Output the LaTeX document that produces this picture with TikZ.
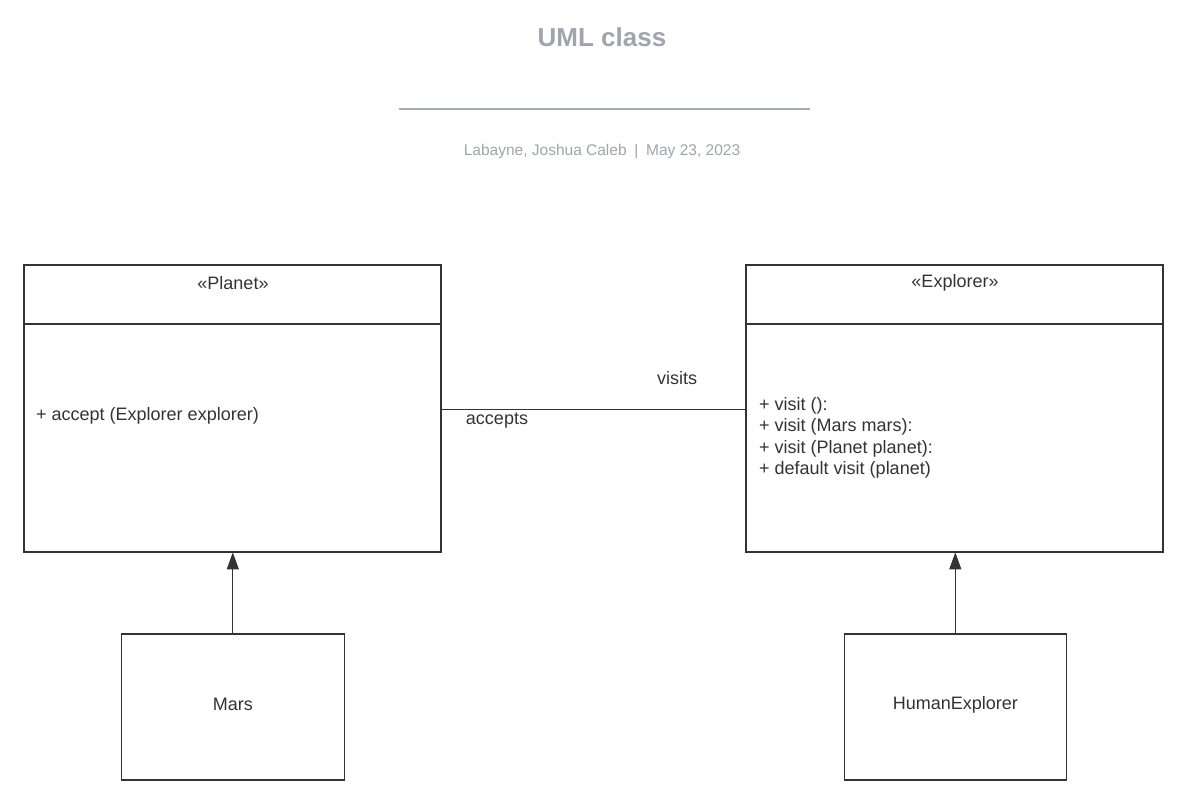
\documentclass[tikz,border=0pt]{standalone}
\usepackage{fontspec}
\setmainfont{Liberation Sans}
\usetikzlibrary{arrows.meta}
\definecolor{ink}{RGB}{51,51,51}
\definecolor{titlegray}{RGB}{160,164,172}
\definecolor{rulegray}{RGB}{160,170,184}
\tikzset{
  box/.style={draw=ink, line width=1.6pt},
  lbl/.style={text=ink, font=\fontsize{18}{21.5}\selectfont, inner sep=0pt},
  conn/.style={draw=ink, line width=1pt},
  inherit/.style={conn, -{Triangle[width=12pt,length=17pt]}}
}
\begin{document}
\begin{tikzpicture}[x=1pt,y=-1pt]
\useasboundingbox (0,0) rectangle (1188,799);
% title
\node[text=titlegray, font=\bfseries\fontsize{26}{30}\selectfont, inner sep=0pt] (title) at (602,37) {UML class};
\coordinate (r1) at (399,109);
\coordinate (r2) at (810,109);
\draw[rulegray, line width=1.3pt] (r1) -- (r2);
\node[text=titlegray, font=\fontsize{15.5}{18}\selectfont, inner sep=0pt] (sub) at (602,152) {Labayne, Joshua Caleb\enspace|\enspace May 23, 2023};
% Planet
\draw[box] (24,265) rectangle (441,552);
\draw[box] (24,324) -- (441,324);
\node[minimum width=417pt, minimum height=287pt, anchor=north west, inner sep=0pt] (planet) at (24,265) {};
\node[lbl] (planetname) at (233,283) {«Planet»};
\node[lbl, anchor=west] (accept) at (36,416) {+ accept (Explorer explorer)};
% Explorer
\draw[box] (746,265) rectangle (1163,552);
\draw[box] (746,324) -- (1163,324);
\node[minimum width=417pt, minimum height=287pt, anchor=north west, inner sep=0pt] (explorer) at (746,265) {};
\node[lbl] (explorername) at (955,283) {«Explorer»};
\node[lbl, anchor=north west, align=left] (methods) at (759,397)
 {+ visit ():\\+ visit (Mars mars):\\+ visit (Planet planet):\\+ default visit (planet)};
% Mars
\node[box, minimum width=223pt, minimum height=146pt, anchor=north west, inner sep=0pt] (mars) at (120.5,633) {};
\node[lbl, yshift=2pt] (marsname) at (mars.center) {Mars};
% HumanExplorer
\node[box, minimum width=222pt, minimum height=146pt, anchor=north west, inner sep=0pt] (human) at (843.5,633) {};
\node[lbl, yshift=2pt] (humanname) at (human.center) {HumanExplorer};
% association
\draw[conn] (planet.east |- 0,409) -- (explorer.west |- 0,409);
\node[lbl] (visits) at (677,378) {visits};
\node[lbl] (accepts) at (497,421) {accepts};
% inheritance
\draw[inherit] (mars.north) -- (mars.north |- planet.south);
\draw[inherit] (human.north) -- (human.north |- explorer.south);
\end{tikzpicture}
\end{document}
